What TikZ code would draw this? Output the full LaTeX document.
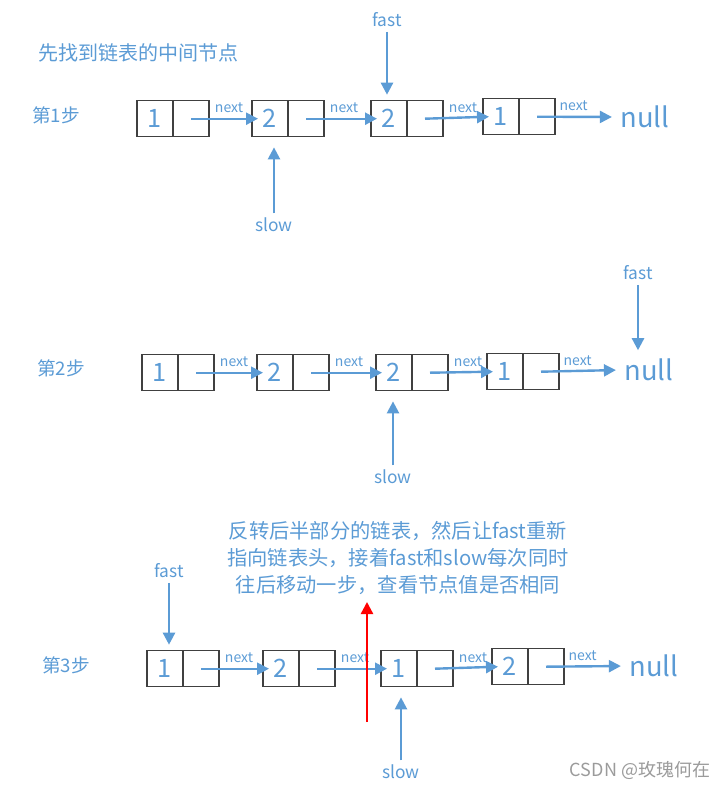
\documentclass[tikz,border=0pt]{standalone}
\usepackage{fontspec}
\setmainfont{Noto Sans CJK SC}
\usetikzlibrary{positioning,arrows.meta}
\definecolor{lblue}{RGB}{91,155,213}
\definecolor{boxgray}{RGB}{64,64,64}
\definecolor{wmgray}{RGB}{155,155,155}
\tikzset{
  cell/.style={draw=boxgray, line width=0.8pt, minimum width=27pt, minimum height=27pt,
    inner sep=0pt, outer sep=0pt, text=lblue, font=\fontsize{19}{19}\selectfont},
  link/.style={draw=lblue, line width=1.8pt, -{Triangle[length=9pt,width=9pt]}},
  redlink/.style={draw=red, line width=1.8pt, -{Triangle[length=9pt,width=9pt]}},
  nextlbl/.style={text=lblue, inner sep=0pt, font=\fontsize{10.5}{10.5}\selectfont},
  nulllbl/.style={text=lblue, font=\fontsize{20.5}{20.5}\selectfont},
  ptrlbl/.style={text=lblue, font=\fontsize{13}{13}\selectfont},
  steplbl/.style={text=lblue, font=\fontsize{14}{14}\selectfont},
}
\begin{document}
\begin{tikzpicture}[x=0.75pt, y=-0.75pt]
\useasboundingbox (0,0) rectangle (724,789);

% Title
\node[text=lblue, font=\fontsize{15}{15}\selectfont] (title) at (138,53) {先找到链表的中间节点};

% Step 1
\node[steplbl] (step1) at (56,115) {第1步};
\node[cell] (a1) at (155,118.7) {1};
\node[cell, right=0pt of a1] (a1p) {};
\node[cell] (a2) at (270,118.7) {2};
\node[cell, right=0pt of a2] (a2p) {};
\node[cell] (a3) at (389,118.7) {2};
\node[cell, right=0pt of a3] (a3p) {};
\node[cell] (a4) at (501,116.7) {1};
\node[cell, right=0pt of a4] (a4p) {};
\node[nulllbl] (a0) at (645,117) {null};
\draw[link] (a1p.center) -- ([xshift=4.5pt]a2.west);
\draw[link] (a2p.center) -- ([xshift=4.5pt]a3.west);
\draw[link] (a3p.center) -- ([xshift=4.5pt]a4.west);
\draw[link, shorten >=3pt] (a4p.center) -- (a0.west);
\node[nextlbl] (an1) at ([xshift=15pt,yshift=8.5pt]a1p.east) {next};
\node[nextlbl] (an2) at ([xshift=15pt,yshift=8.5pt]a2p.east) {next};
\node[nextlbl] (an3) at ([xshift=15pt,yshift=8.5pt]a3p.east) {next};
\node[nextlbl] (an4) at ([xshift=14pt,yshift=8.5pt]a4p.east) {next};
\node[ptrlbl] (fast1) at (387,20) {fast};
\draw[link, shorten >=4.5pt] (fast1.south) -- (fast1 |- a3.north);
\node[ptrlbl] (slow1) at (274,225) {slow};
\draw[link, shorten >=8pt] (slow1.north) -- (slow1 |- a2.south);

% Step 2
\node[steplbl] (step2) at (61,368) {第2步};
\node[cell] (b1) at (160,372.7) {1};
\node[cell, right=0pt of b1] (b1p) {};
\node[cell] (b2) at (275,372.7) {2};
\node[cell, right=0pt of b2] (b2p) {};
\node[cell] (b3) at (394,372.7) {2};
\node[cell, right=0pt of b3] (b3p) {};
\node[cell] (b4) at (505,371.7) {1};
\node[cell, right=0pt of b4] (b4p) {};
\node[nulllbl] (b0) at (649,370) {null};
\draw[link] (b1p.center) -- ([xshift=4.5pt]b2.west);
\draw[link] (b2p.center) -- ([xshift=4.5pt]b3.west);
\draw[link] (b3p.center) -- ([xshift=4.5pt]b4.west);
\draw[link, shorten >=3pt] (b4p.center) -- (b0.west);
\node[nextlbl] (bn1) at ([xshift=15pt,yshift=8.5pt]b1p.east) {next};
\node[nextlbl] (bn2) at ([xshift=15pt,yshift=8.5pt]b2p.east) {next};
\node[nextlbl] (bn3) at ([xshift=15pt,yshift=8.5pt]b3p.east) {next};
\node[nextlbl] (bn4) at ([xshift=14pt,yshift=8.5pt]b4p.east) {next};
\node[ptrlbl] (fast2) at (638,273) {fast};
\draw[link, shorten >=3pt] (fast2.south) -- (fast2 |- b0.north);
\node[ptrlbl] (slow2) at (393,477) {slow};
\draw[link, shorten >=8pt] (slow2.north) -- (slow2 |- b3.south);

% Step 3
\node[text=lblue, align=center, font=\fontsize{15.2}{20.25}\selectfont] (note) at (398,558)
  {反转后半部分的链表，然后让fast重新\\指向链表头，接着fast和slow每次同时\\往后移动一步，查看节点值是否相同};
\node[steplbl] (step3) at (66,665) {第3步};
\node[cell] (c1) at (165,668.7) {1};
\node[cell, right=0pt of c1] (c1p) {};
\node[cell] (c2) at (281,668.7) {2};
\node[cell, right=0pt of c2] (c2p) {};
\node[cell] (c3) at (399,668.7) {1};
\node[cell, right=0pt of c3] (c3p) {};
\node[cell] (c4) at (510,666.7) {2};
\node[cell, right=0pt of c4] (c4p) {};
\node[nulllbl] (c0) at (654,666) {null};
\draw[link] (c1p.center) -- ([xshift=4.5pt]c2.west);
\draw[link] (c2p.center) -- ([xshift=4.5pt]c3.west);
\draw[link] (c3p.center) -- ([xshift=4.5pt]c4.west);
\draw[link, shorten >=3pt] (c4p.center) -- (c0.west);
\node[nextlbl] (cn1) at ([xshift=15pt,yshift=8.5pt]c1p.east) {next};
\node[nextlbl] (cn2) at ([xshift=15pt,yshift=8.5pt]c2p.east) {next};
\node[nextlbl] (cn3) at ([xshift=15pt,yshift=8.5pt]c3p.east) {next};
\node[nextlbl] (cn4) at ([xshift=14pt,yshift=8.5pt]c4p.east) {next};
\node[ptrlbl] (fast3) at (169,571) {fast};
\draw[link, shorten >=4.5pt] (fast3.south) -- (fast3 |- c1.north);
\node[ptrlbl] (slow3) at (401,772) {slow};
\draw[link, shorten >=8pt] (slow3.north) -- (slow3 |- c3.south);

% red marker between the two halves
\coordinate (redtail) at (367,722);
\coordinate (redtip) at (367,602);
\draw[redlink] (redtail) -- (redtip);

% watermark
\node[text=wmgray, font=\fontsize{13.5}{13.5}\selectfont] (csdn) at (640,770) {CSDN @玫瑰何在};
\end{tikzpicture}
\end{document}
